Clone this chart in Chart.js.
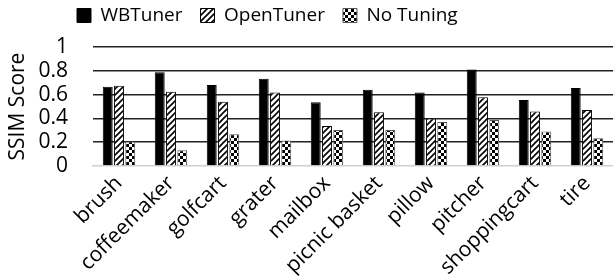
<!DOCTYPE html>
<html>
<head>
<meta charset="utf-8">
<script src="https://cdn.jsdelivr.net/npm/chart.js@4.4.1/dist/chart.umd.min.js"></script>
<style>
  html, body { margin: 0; padding: 0; background: #fff; }
  #wrap { width: 613px; height: 280px; }
</style>
</head>
<body>
<div id="wrap"><canvas id="chart" width="613" height="280"></canvas></div>
<script>
// Valores
const categories = ["brush", "coffeemaker", "golfcart", "grater", "mailbox", "picnic basket", "pillow", "pitcher", "shoppingcart", "tire"];
const wbTuner = [0.667, 0.788, 0.68, 0.733, 0.535, 0.64, 0.617, 0.81, 0.554, 0.655];
const openTuner = [0.675, 0.625, 0.54, 0.617, 0.336, 0.452, 0.40, 0.578, 0.457, 0.471];
const noTuning = [0.206, 0.132, 0.267, 0.215, 0.303, 0.303, 0.37, 0.386, 0.29, 0.234];
const yTicks = [0, 0.2, 0.4, 0.6, 0.8, 1];

const FONT = "'Open Sans', sans-serif";

// Padrão de listras diagonais (OpenTuner)
function hatchPattern() {
  const c = document.createElement("canvas");
  c.width = 6;
  c.height = 6;
  const g = c.getContext("2d");
  g.fillStyle = "#fff";
  g.fillRect(0, 0, 6, 6);
  g.strokeStyle = "#000";
  g.lineWidth = 1.6;
  g.beginPath();
  g.moveTo(-1, 7);
  g.lineTo(7, -1);
  g.moveTo(-4, 4);
  g.lineTo(4, -4);
  g.moveTo(2, 10);
  g.lineTo(10, 2);
  g.stroke();
  return g.createPattern(c, "repeat");
}

// Padrão xadrez (No Tuning)
function checkerPattern() {
  const c = document.createElement("canvas");
  c.width = 6;
  c.height = 6;
  const g = c.getContext("2d");
  g.fillStyle = "#fff";
  g.fillRect(0, 0, 6, 6);
  g.fillStyle = "#000";
  g.fillRect(0, 0, 3, 3);
  g.fillRect(3, 3, 3, 3);
  return g.createPattern(c, "repeat");
}

// Move a legenda para cima e para a esquerda, como no original
const legendShift = {
  id: "legendShift",
  beforeDraw(chart) {
    const lg = chart.legend;
    const h = lg.bottom - lg.top;
    lg.left = 59;
    lg.top = -12;
    lg.bottom = lg.top + h;
  },
};

const ctx = document.getElementById("chart").getContext("2d");
new Chart(ctx, {
  type: "bar",
  data: {
    labels: categories,
    datasets: [
      {
        label: "WBTuner",
        data: wbTuner,
        backgroundColor: "#000",
        borderColor: "#000",
        borderWidth: 1,
      },
      {
        label: "OpenTuner",
        data: openTuner,
        backgroundColor: hatchPattern(),
        borderColor: "#000",
        borderWidth: 1,
      },
      {
        label: "No Tuning",
        data: noTuning,
        backgroundColor: checkerPattern(),
        borderColor: "#555",
        borderWidth: 1,
      },
    ],
  },
  options: {
    responsive: false,
    animation: false,
    events: [],
    categoryPercentage: 0.65,
    barPercentage: 0.88,
    layout: { padding: { left: 0, right: 0, top: 0, bottom: 0 } },
    plugins: {
      legend: {
        position: "top",
        align: "start",
        labels: {
          boxWidth: 14,
          boxHeight: 14,
          padding: 18,
          color: "#000",
          font: { family: FONT, size: 19 },
        },
      },
      tooltip: { enabled: false },
    },
    scales: {
      x: {
        afterFit(axis) {
          axis.height = 114;
        },
        grid: { display: false, drawTicks: false },
        border: { display: true, color: "#d0d0d0", width: 1.5 },
        ticks: {
          color: "#000",
          font: { family: FONT, size: 21 },
          maxRotation: 45,
          minRotation: 45,
          padding: 5,
          autoSkip: false,
        },
      },
      y: {
        min: 0,
        max: 1,
        afterBuildTicks(axis) {
          axis.ticks = yTicks.map((v) => ({ value: v }));
        },
        afterFit(axis) {
          axis.width = 93;
        },
        grid: {
          drawTicks: false,
          color: (c) => (c.tick && c.tick.value === 0 ? "rgba(0,0,0,0)" : "#222"),
          lineWidth: 1.5,
        },
        border: { display: false },
        ticks: {
          color: "#000",
          font: { family: FONT, size: 21 },
          padding: 25,
          autoSkip: false,
          callback: (v) => String(v),
        },
        title: {
          display: true,
          text: "SSIM Score",
          color: "#000",
          font: { family: FONT, size: 21 },
          padding: { top: 5, bottom: 0 },
        },
      },
    },
  },
  plugins: [legendShift],
});
</script>
</body>
</html>
